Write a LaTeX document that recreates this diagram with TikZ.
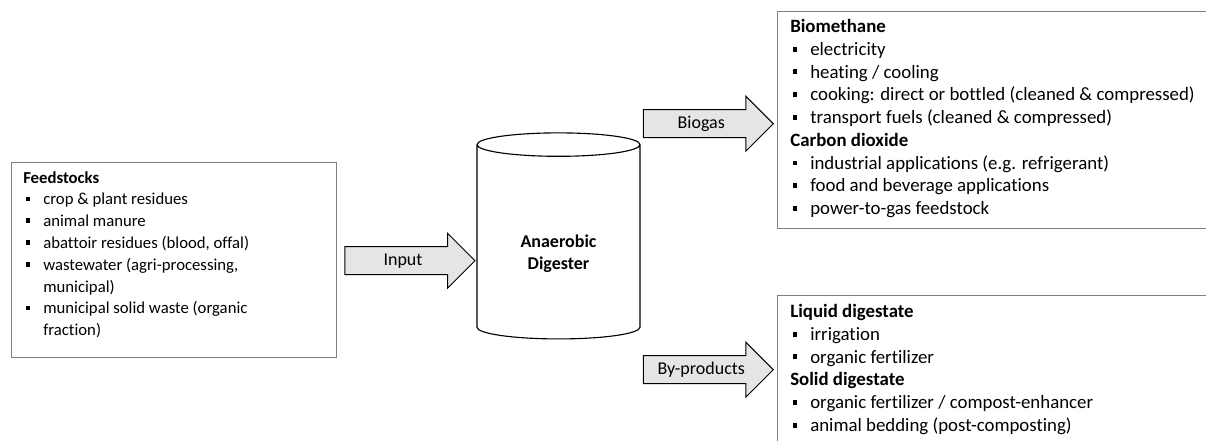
\documentclass[tikz,border=0pt]{standalone}
\usepackage{fontspec}
\setmainfont[Ligatures=NoCommon]{Carlito}
\usetikzlibrary{shapes.geometric,shapes.arrows,positioning}

\newcommand{\itm}[1]{\makebox[0.5cm][l]{\hspace{0.06cm}\rule[0.2em]{0.12cm}{0.12cm}}#1}
\newcommand{\cont}[1]{\hspace*{0.5cm}#1}

\tikzset{
  listbox/.style={draw=black!50, line width=1pt, fill=white, anchor=north west, inner sep=0pt},
  listtext/.style={anchor=north west, inner sep=0pt, align=left, font=\fontsize{13.4}{16.2}\selectfont},
  fatarrow/.style={single arrow, draw=black, line width=0.7pt, fill=black!10, single arrow head extend=0.3375cm, single arrow tip angle=90, inner xsep=0pt, inner ysep=0pt, text height=0.45cm, text depth=0.225cm, minimum height=3.25cm, font=\fontsize{12.8}{15.5}\selectfont},
  tank/.style={cylinder, shape border rotate=90, draw=black, line width=0.8pt, fill=white, aspect=2.5, minimum width=4.075cm, minimum height=5.15cm}
}

\begin{document}
\begin{tikzpicture}[x=0.025cm, y=-0.025cm]
\useasboundingbox (0,0) rectangle (1206,441);
\clip (0,0) rectangle (1206,441);

\node[listbox, minimum width=8.125cm, minimum height=4.875cm] (feed) at (11,162) {};
\node[listtext, font=\fontsize{11.9}{15.5}\selectfont] (feedtxt) at ([shift={(12,9)}]feed.north west) {\textbf{Feedstocks}\\
\itm{crop \& plant residues}\\
\itm{animal manure}\\
\itm{abattoir residues (blood, offal)}\\
\itm{wastewater (agri-processing,}\\
\cont{municipal)}\\
\itm{municipal solid waste (organic}\\
\cont{fraction)}};

\node[tank] (dig) at (558.5,244) {};
\node[font=\fontsize{12.8}{15.5}\selectfont\bfseries, align=center] (diglbl) at ([shift={(0,10)}]dig.center) {Anaerobic\\Digester};

\node[listbox, minimum width=11.075cm, minimum height=5.425cm] (bio) at (777,11) {};
\node[listtext] (biotxt) at ([shift={(13,8)}]bio.north west) {\textbf{Biomethane}\\
\itm{electricity}\\
\itm{heating / cooling}\\
\itm{cooking: direct or bottled (cleaned \& compressed)}\\
\itm{transport fuels (cleaned \& compressed)}\\
\textbf{Carbon dioxide}\\
\itm{industrial applications (e.g. refrigerant)}\\
\itm{food and beverage applications}\\
\itm{power-to-gas feedstock}};

\node[listbox, minimum width=11.075cm, minimum height=4.125cm] (dgs) at (777,295) {};
\node[listtext] (dgstxt) at ([shift={(13,9)}]dgs.north west) {\textbf{Liquid digestate}\\
\itm{irrigation}\\
\itm{organic fertilizer}\\
\textbf{Solid digestate}\\
\itm{organic fertilizer / compost-enhancer}\\
\itm{animal bedding (post-composting)}};

\node[fatarrow, anchor=tail] (inarr) at ([shift={(7,0.5)}]feed.east) {Input};
\node[fatarrow, anchor=tip] (gasarr) at ([shift={(-3,3.5)}]bio.west) {Biogas};
\node[fatarrow, anchor=tip] (byarr) at ([shift={(-3,-8.5)}]dgs.west) {By-products};
\end{tikzpicture}
\end{document}
